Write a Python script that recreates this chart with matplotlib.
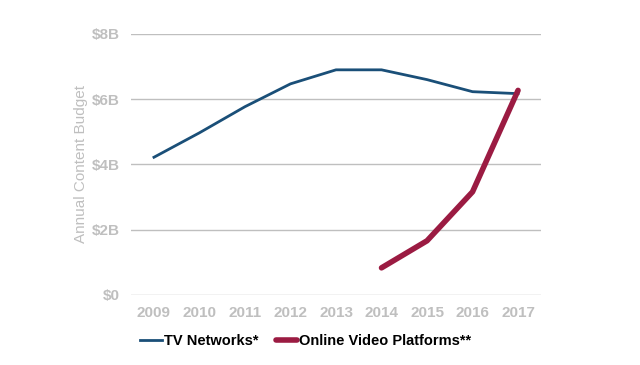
import matplotlib.pyplot as plt
from matplotlib.ticker import FuncFormatter

years = ["2009", "2010", "2011", "2012", "2013", "2014", "2015", "2016", "2017"]
tv_networks = [4.22, 4.97, 5.77, 6.47, 6.9, 6.9, 6.6, 6.23, 6.17]
online_years = ["2014", "2015", "2016", "2017"]
online_platforms = [0.83, 1.66, 3.16, 6.27]

plt.rcParams['font.family'] = ['Liberation Sans', 'DejaVu Sans']
grey = '#bfbfbf'

fig = plt.figure(figsize=(6.4, 3.65), dpi=100)
ax = fig.add_axes([0.205, 0.192, 0.64, 0.715])

x_tv = list(range(len(years)))
x_on = [years.index(y) for y in online_years]
ax.plot(x_tv, tv_networks, color='#1a4f78', linewidth=2, label='TV Networks*')
ax.plot(x_on, online_platforms, color='#9b1b42', linewidth=4, label='Online Video Platforms**',
        solid_capstyle='round')

ax.set_xlim(-0.5, len(years) - 0.5)
ax.set_ylim(0, 8)
ax.set_yticks([0, 2, 4, 6, 8])
ax.yaxis.set_major_formatter(FuncFormatter(lambda v, p: '$0' if v == 0 else f'${v:.0f}B'))
ax.set_xticks(x_tv)
ax.set_xticklabels(years)
ax.grid(axis='y', color='#bfbfbf', linewidth=1)
ax.set_axisbelow(True)
for s in ax.spines.values():
    s.set_visible(False)
ax.tick_params(length=0, labelsize=11, colors=grey, pad=8)
for lab in ax.get_xticklabels() + ax.get_yticklabels():
    lab.set_fontweight('bold')
ax.set_ylabel('Annual Content Budget', color=grey, fontsize=11, labelpad=3)

leg = ax.legend(loc='upper left', bbox_to_anchor=(-0.01, -0.1), ncol=2, frameon=False,
                handlelength=1.5, handletextpad=0.1, columnspacing=1.2,
                prop={'weight': 'bold', 'size': 10.5})

fig.savefig('out.png', dpi=100)
